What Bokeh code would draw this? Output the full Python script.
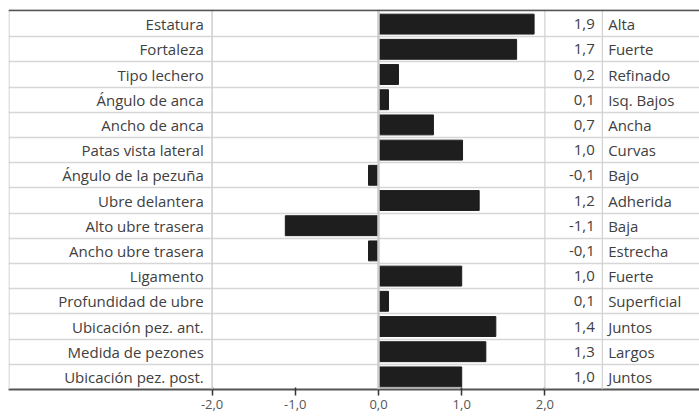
from bokeh.plotting import figure
from bokeh.models import Range1d, Span, FixedTicker, ColumnDataSource, CustomJSTickFormatter
from bokeh.core.properties import value
from bokeh.embed import file_html
from bokeh.resources import INLINE

# ---- data ----
categories = ["Estatura", "Fortaleza", "Tipo lechero", "Ángulo de anca", "Ancho de anca",
              "Patas vista lateral", "Ángulo de la pezuña", "Ubre delantera", "Alto ubre trasera",
              "Ancho ubre trasera", "Ligamento", "Profundidad de ubre", "Ubicación pez. ant.",
              "Medida de pezones", "Ubicación pez. post."]
values = [1.87, 1.66, 0.24, 0.12, 0.66, 1.01, -0.12, 1.21, -1.12, -0.12, 1.0, 0.12, 1.41, 1.29, 1.0]
descriptors = ["Alta", "Fuerte", "Refinado", "Isq. Bajos", "Ancha", "Curvas", "Bajo", "Adherida",
               "Baja", "Estrecha", "Fuerte", "Superficial", "Juntos", "Largos", "Juntos"]
ticks = [-2, -1, 0, 1, 2]

# ---- layout ----
n = len(categories)
FONT = "Open Sans"
TEXT_COLOR = "#404040"
XMIN, XMAX = -4.447, 3.858
LABEL_X, VALUE_X, DESC_X, COL_SEP_X = -2.1, 2.6, 2.76, 2.69
YTOP = n - 0.5 + 0.08

ys = [n - 1 - i for i in range(n)]
src = ColumnDataSource(dict(
    y=ys, cat=categories, val=values, desc=descriptors,
    vlab=[f"{v:.1f}".replace(".", ",") for v in values],
))

p = figure(frame_width=691, frame_height=380,
           x_range=Range1d(XMIN, XMAX), y_range=Range1d(-0.5, YTOP),
           output_backend="svg", toolbar_location=None,
           y_axis_location=None,
           min_border_left=8, min_border_right=0, min_border_top=9, min_border_bottom=0)
p.outline_line_color = None
p.xgrid.visible = False
p.ygrid.ticker = FixedTicker(ticks=[k + 0.5 for k in range(n - 1)])
p.ygrid.grid_line_color = "#d6d6d6"
p.ygrid.grid_line_width = 1.5

# vertical separators
for x, w in [(XMIN + 0.006, 1.2), (-2, 1.5), (2, 1.2), (COL_SEP_X, 1.2)]:
    p.add_layout(Span(location=x, dimension="height", line_color="#cfcfcf", line_width=w))

p.hbar(y="y", left=0, right="val", height=0.79, source=src, color="#1e1e1e")

p.add_layout(Span(location=0, dimension="height", line_color="#cccccc", line_width=2.5))
p.add_layout(Span(location=YTOP - 0.03, dimension="width", line_color="#555555", line_width=2))

for xpos, col, align in [(LABEL_X, "cat", "right"), (VALUE_X, "vlab", "right"), (DESC_X, "desc", "left")]:
    p.text(x=xpos, y="y", text=col, source=src, text_align=align, text_baseline="middle",
           text_font=value(FONT), text_font_size="15px", text_color=TEXT_COLOR)

ax = p.xaxis[0]
ax.ticker = FixedTicker(ticks=ticks)
ax.formatter = CustomJSTickFormatter(code="return tick.toFixed(1).replace('.', ',');")
ax.axis_line_color = "#555555"
ax.axis_line_width = 2
ax.major_tick_line_color = "#333333"
ax.major_tick_line_width = 1.5
ax.major_tick_in = 2
ax.major_tick_out = 6
ax.minor_tick_line_color = None
ax.major_label_text_font = FONT
ax.major_label_text_font_size = "13px"
ax.major_label_text_color = "#555555"
ax.major_label_standoff = 4

open("out.html", "w").write(file_html(p, INLINE))
